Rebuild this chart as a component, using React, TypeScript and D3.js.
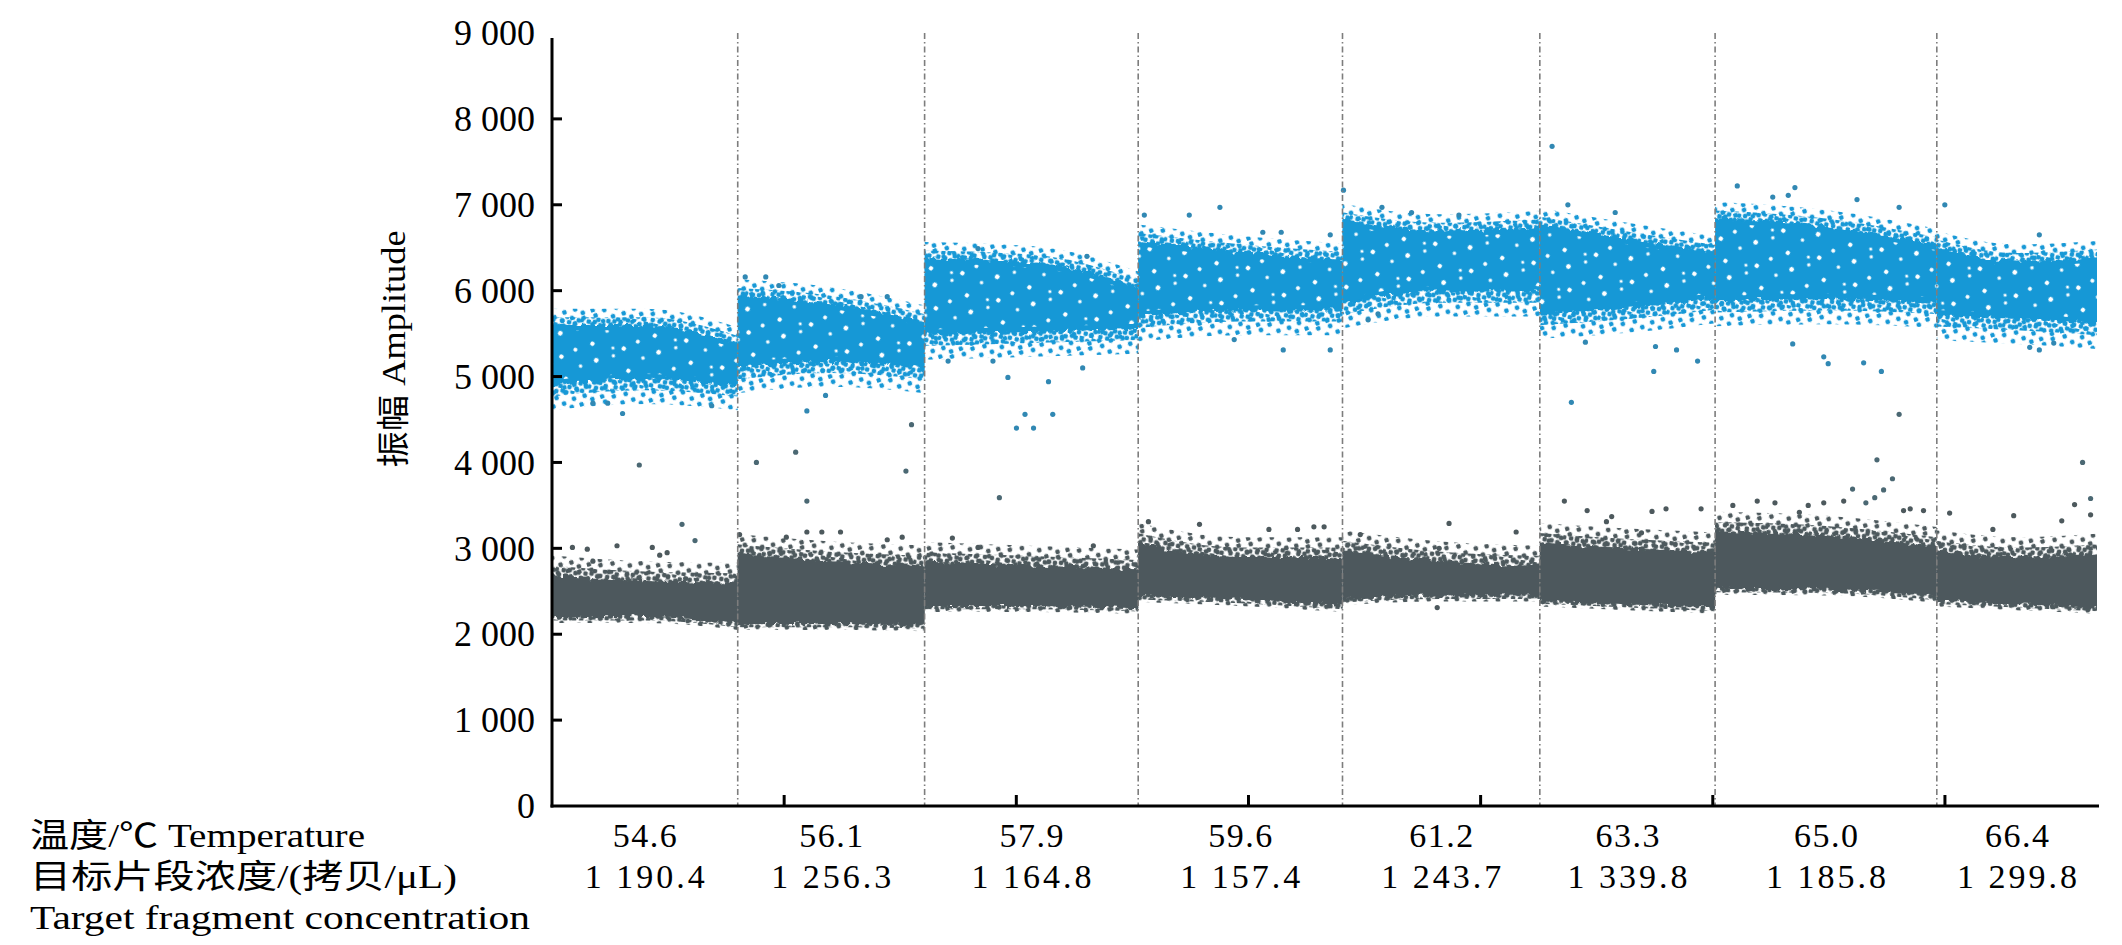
import React, { useEffect, useRef } from "react";
import * as d3 from "d3";

// wells in run order
const temperatures = ["54.6", "56.1", "57.9", "59.6", "61.2", "63.3", "65.0", "66.4"];
const concentrations = ["1 190.4", "1 256.3", "1 164.8", "1 157.4", "1 243.7", "1 339.8", "1 185.8", "1 299.8"];
const dropletCounts = [16000, 16100, 18400, 17600, 17000, 15100, 19100, 13800];

// dense droplet clouds per well: [fraction of well, low amplitude, high amplitude]
const positiveBands: [number, number, number][][] = [
    [[0, 4880, 5600], [0.5, 4970, 5600], [1, 4880, 5330]],
    [[0, 5080, 5950], [0.5, 5170, 5850], [1, 5080, 5600]],
    [[0, 5480, 6380], [0.5, 5520, 6330], [1, 5560, 5980]],
    [[0, 5680, 6600], [0.5, 5770, 6450], [1, 5770, 6350]],
    [[0, 5820, 6850], [0.5, 5990, 6700], [1, 5990, 6750]],
    [[0, 5720, 6800], [0.5, 5800, 6600], [1, 5930, 6420]],
    [[0, 5870, 6850], [0.5, 5900, 6750], [1, 5850, 6500]],
    [[0, 5720, 6550], [0.5, 5670, 6350], [1, 5600, 6400]],
];
const negativeBands: [number, number, number][][] = [
    [[0, 2200, 2700], [0.5, 2200, 2620], [1, 2100, 2600]],
    [[0, 2120, 2950], [0.5, 2120, 2850], [1, 2100, 2800]],
    [[0, 2330, 2850], [0.5, 2330, 2800], [1, 2300, 2750]],
    [[0, 2450, 3100], [0.5, 2400, 2900], [1, 2320, 2900]],
    [[0, 2400, 3000], [0.5, 2450, 2850], [1, 2450, 2800]],
    [[0, 2400, 3080], [0.5, 2350, 3000], [1, 2300, 2950]],
    [[0, 2530, 3200], [0.5, 2520, 3150], [1, 2420, 3000]],
    [[0, 2400, 3000], [0.5, 2350, 2900], [1, 2300, 2950]],
];
// looser droplets around the clouds: [below, above], inner ring then outer ring
const positiveSpread = [[130, 90], [290, 190]];
const negativeSpread = [[40, 110], [70, 230]];

// single droplets: [well, fraction of well, amplitude]
const positiveOutliers: [number, number, number][] = [
    [0, 0.22, 4690], [0, 0.38, 4570], [0, 0.86, 4660], [0, 0.3, 4690],
    [1, 0.04, 6160], [1, 0.15, 6160], [1, 0.22, 6060], [1, 0.66, 5930], [1, 0.8, 5930],
    [1, 0.47, 4780], [1, 0.37, 4600],
    [2, 0.43, 4400], [2, 0.51, 4400], [2, 0.47, 4560], [2, 0.6, 4560], [2, 0.58, 4940],
    [2, 0.39, 4990], [2, 0.11, 5180], [2, 0.32, 5180], [2, 0.74, 5100], [2, 0.25, 6490], [2, 0.76, 6400],
    [3, 0.4, 6970], [3, 0.25, 6880], [3, 0.03, 6880], [3, 0.61, 6680], [3, 0.7, 6680], [3, 0.94, 6650],
    [3, 0.71, 5310], [3, 0.94, 5310], [3, 0.47, 5430],
    [4, 0.005, 7170], [4, 0.2, 6970], [4, 0.35, 6910], [4, 0.59, 6880], [4, 0.13, 5660], [4, 0.18, 5730],
    [5, 0.07, 7680], [5, 0.16, 7000], [5, 0.43, 6910], [5, 0.65, 5060], [5, 0.9, 5180],
    [5, 0.78, 5310], [5, 0.66, 5350], [5, 0.26, 5400], [5, 0.18, 4700],
    [6, 0.1, 7220], [6, 0.36, 7200], [6, 0.33, 7110], [6, 0.26, 7090], [6, 0.83, 6970], [6, 0.64, 7060],
    [6, 0.35, 5380], [6, 0.67, 5160], [6, 0.75, 5060], [6, 0.49, 5230], [6, 0.51, 5150],
    [7, 0.05, 7000], [7, 0.64, 6650], [7, 0.58, 5340], [7, 0.64, 5310], [7, 0.73, 5390],
];
const rainDroplets: [number, number, number][] = [
    [0, 0.47, 3970], [0, 0.7, 3280], [0, 0.77, 3090],
    [1, 0.1, 4000], [1, 0.31, 4120], [1, 0.37, 3550], [1, 0.9, 3900], [1, 0.93, 4440],
    [2, 0.35, 3590],
    [6, 0.83, 4560], [6, 0.73, 4030], [6, 0.8, 3810], [6, 0.62, 3690], [6, 0.76, 3680],
    [6, 0.72, 3590], [6, 0.68, 3530],
    [7, 0.91, 4000], [7, 0.96, 3580],
];
const negativeOutliers: [number, number, number][] = [
    [0, 0.11, 3010], [0, 0.19, 2990], [0, 0.35, 3030], [0, 0.54, 3010], [0, 0.58, 2920],
    [0, 0.62, 2950], [0, 0.22, 2850],
    [1, 0.01, 3160], [1, 0.37, 3190], [1, 0.45, 3190], [1, 0.55, 3190], [1, 0.26, 3130],
    [1, 0.8, 3100], [1, 0.88, 3130],
    [2, 0.13, 3120], [2, 0.79, 3030], [2, 0.25, 3010],
    [3, 0.05, 3310], [3, 0.3, 3280], [3, 0.78, 3220], [3, 0.86, 3250], [3, 0.64, 3220], [3, 0.91, 3250],
    [4, 0.54, 3290], [4, 0.88, 3190], [4, 0.49, 3000], [4, 0.09, 3160], [4, 0.48, 2310],
    [5, 0.14, 3550], [5, 0.27, 3440], [5, 0.38, 3310], [5, 0.41, 3370], [5, 0.64, 3430],
    [5, 0.72, 3460], [5, 0.92, 3460], [5, 0.58, 3180],
    [6, 0.08, 3500], [6, 0.19, 3550], [6, 0.27, 3530], [6, 0.42, 3500], [6, 0.49, 3530],
    [6, 0.58, 3550], [6, 0.38, 3420], [6, 0.85, 3440], [6, 0.88, 3460], [6, 0.94, 3440],
    [7, 0.08, 3410], [7, 0.48, 3380], [7, 0.86, 3510], [7, 0.96, 3390], [7, 0.78, 3320], [7, 0.35, 3220],
];

const yTicks = [0, 1000, 2000, 3000, 4000, 5000, 6000, 7000, 8000, 9000];
const eventTickStep = 20000;

const leftLabels = ["温度/℃ Temperature", "目标片段浓度/(拷贝/μL)", "Target fragment concentration"];
const yTitle = "振幅 Amplitude";

const BLUE = "#1798d6";
const GRAY = "#4d595d";

// speckle tiles (texture only)
const speckleDense = [[2, 3], [8, 1], [14, 4], [20, 2], [5, 8], [11, 7], [17, 9], [1, 13], [8, 13], [14, 12], [20, 14], [4, 18], [11, 18], [17, 19]];
const speckleSparse = [[3, 4], [13, 2], [19, 11], [8, 12], [2, 19], [14, 18]];
const holeTile = [[5, 6, 2.2], [29, 3, 1.7], [18, 17, 2.4], [40, 21, 2.0], [9, 31, 1.8], [33, 35, 2.3], [24, 41, 1.6]];

const DropletPlot: React.FC = () => {
    const svgRef = useRef<SVGSVGElement | null>(null);

    useEffect(() => {
        document.body.style.margin = "0";
        const svg = d3.select(svgRef.current);
        svg.selectAll("*").remove();

        const total = d3.sum(dropletCounts);
        const starts = dropletCounts.map((_, i) => d3.sum(dropletCounts.slice(0, i)));
        const x = d3.scaleLinear().domain([0, total]).range([552, 2097]);
        const y = d3.scaleLinear().domain([0, 9000]).range([806, 33]);
        const fmt = d3.formatLocale({ decimal: ".", thousands: " ", grouping: [3], currency: ["", ""] }).format(",d");
        const serif = "'Liberation Serif', 'Noto Sans CJK SC', serif";

        const defs = svg.append("defs");
        const rough = defs.append("filter").attr("id", "rough")
            .attr("x", "-5%").attr("y", "-30%").attr("width", "110%").attr("height", "160%");
        rough.append("feTurbulence").attr("type", "fractalNoise").attr("baseFrequency", "0.16")
            .attr("numOctaves", 2).attr("seed", 5).attr("result", "noise");
        rough.append("feDisplacementMap").attr("in", "SourceGraphic").attr("in2", "noise")
            .attr("scale", 9).attr("xChannelSelector", "R").attr("yChannelSelector", "G");

        const makePattern = (id: string, color: string, w: number, h: number, pts: number[][], r: number, rot: number) => {
            const p = defs.append("pattern").attr("id", id).attr("patternUnits", "userSpaceOnUse")
                .attr("width", w).attr("height", h).attr("patternTransform", `rotate(${rot})`);
            pts.forEach(([cx, cy, cr]) => p.append("circle").attr("cx", cx).attr("cy", cy).attr("r", cr ?? r).attr("fill", color));
        };
        makePattern("blueMid", BLUE, 22, 21, speckleDense, 2.4, 13);
        makePattern("blueSparse", BLUE, 22, 21, speckleSparse, 2.4, -21);
        makePattern("grayMid", GRAY, 22, 21, speckleDense, 2.4, 9);
        makePattern("graySparse", GRAY, 22, 21, speckleSparse, 2.4, -17);
        makePattern("holes", "#fff", 45, 44, holeTile, 2, 37);

        dropletCounts.forEach((count, i) => {
            defs.append("clipPath").attr("id", `well-${i}`).append("rect")
                .attr("x", x(starts[i])).attr("y", 0)
                .attr("width", x(starts[i] + count) - x(starts[i])).attr("height", y(0));
        });

        const area = (i: number, band: [number, number, number][], below: number, above: number) => {
            const pad = 1200;
            const pts = band.map(([f, lo, hi]) => ({ e: starts[i] + f * dropletCounts[i], lo: lo - below, hi: hi + above }));
            pts[0].e -= pad;
            pts[pts.length - 1].e += pad;
            return d3.area<{ e: number; lo: number; hi: number }>()
                .x((d) => x(d.e)).y0((d) => y(d.lo)).y1((d) => y(d.hi))
                .curve(d3.curveMonotoneX)(pts);
        };

        const clouds = svg.append("g");
        dropletCounts.forEach((_, i) => {
            const g = clouds.append("g").attr("clip-path", `url(#well-${i})`);
            const cloud = (band: [number, number, number][], spread: number[][], color: string, mid: string, sparse: string, holes: boolean) => {
                g.append("path").attr("d", area(i, band, spread[1][0], spread[1][1])).attr("fill", `url(#${sparse})`);
                g.append("path").attr("d", area(i, band, spread[0][0], spread[0][1])).attr("fill", `url(#${mid})`);
                g.append("path").attr("d", area(i, band, 0, 0)).attr("fill", color).attr("filter", "url(#rough)");
                if (holes) {
                    g.append("path").attr("d", area(i, band, -60, -60)).attr("fill", "url(#holes)");
                }
            };
            cloud(negativeBands[i], negativeSpread, GRAY, "grayMid", "graySparse", false);
            cloud(positiveBands[i], positiveSpread, BLUE, "blueMid", "blueSparse", true);
        });

        const dots = (data: [number, number, number][], color: string) => {
            svg.append("g").selectAll("circle").data(data).enter().append("circle")
                .attr("cx", (d) => x(starts[d[0]] + d[1] * dropletCounts[d[0]]))
                .attr("cy", (d) => y(d[2]))
                .attr("r", 2.6)
                .attr("fill", color);
        };
        dots(negativeOutliers, GRAY);
        dots(rainDroplets, "#4b6873");
        dots(positiveOutliers, "#3188b3");

        // well separators
        svg.append("g").selectAll("line").data(starts.slice(1)).enter().append("line")
            .attr("x1", (d) => x(d)).attr("x2", (d) => x(d))
            .attr("y1", y(9000)).attr("y2", y(0))
            .attr("stroke", "#7d7d7d").attr("stroke-width", 1.6)
            .attr("stroke-dasharray", "6 3 1.5 3");

        // y axis
        const yAxis = svg.append("g");
        yAxis.append("line").attr("x1", x(0)).attr("x2", x(0)).attr("y1", y(0) + 1.5).attr("y2", y(9000) + 5)
            .attr("stroke", "#000").attr("stroke-width", 3);
        yAxis.selectAll("line.tick").data(yTicks.slice(1, -1)).enter().append("line")
            .attr("class", "tick")
            .attr("x1", x(0)).attr("x2", x(0) + 10).attr("y1", (d) => y(d)).attr("y2", (d) => y(d))
            .attr("stroke", "#000").attr("stroke-width", 3);
        yAxis.selectAll("text").data(yTicks).enter().append("text")
            .attr("x", 535).attr("y", (d) => y(d)).attr("dy", "0.34em")
            .attr("text-anchor", "end").attr("font-family", serif).attr("font-size", 36)
            .text((d) => fmt(d));

        // x axis
        const xAxis = svg.append("g");
        xAxis.append("line").attr("x1", x(0) - 1.5).attr("x2", x(total) + 2).attr("y1", y(0)).attr("y2", y(0))
            .attr("stroke", "#000").attr("stroke-width", 3);
        xAxis.selectAll("line.tick").data(d3.range(eventTickStep, total, eventTickStep)).enter().append("line")
            .attr("class", "tick")
            .attr("x1", (d) => x(d)).attr("x2", (d) => x(d)).attr("y1", y(0)).attr("y2", y(0) - 11)
            .attr("stroke", "#000").attr("stroke-width", 3);

        const centers = starts.map((s, i) => x(s + dropletCounts[i] / 2));
        svg.append("g").selectAll("text").data(temperatures).enter().append("text")
            .attr("x", (_, i) => centers[i]).attr("y", 847)
            .attr("text-anchor", "middle").attr("font-family", serif).attr("font-size", 34)
            .attr("textLength", 64).attr("lengthAdjust", "spacing")
            .text((d) => d);
        svg.append("g").selectAll("text").data(concentrations).enter().append("text")
            .attr("x", (_, i) => centers[i]).attr("y", 888)
            .attr("text-anchor", "middle").attr("font-family", serif).attr("font-size", 34)
            .attr("textLength", 120).attr("lengthAdjust", "spacing")
            .text((d) => d);

        const labelWidths = [335, 427, 500];
        svg.append("g").selectAll("text").data(leftLabels).enter().append("text")
            .attr("x", 30).attr("y", (_, i) => 847 + i * 41)
            .attr("font-family", serif).attr("font-size", 33)
            .attr("textLength", (_, i) => labelWidths[i]).attr("lengthAdjust", "spacingAndGlyphs")
            .text((d) => d);

        svg.append("text")
            .attr("transform", `translate(405, 349) rotate(-90)`)
            .attr("text-anchor", "middle").attr("font-family", serif).attr("font-size", 33)
            .attr("textLength", 237).attr("lengthAdjust", "spacingAndGlyphs")
            .text(yTitle);
    }, []);

    return <svg ref={svgRef} width={2122} height={945} style={{ display: "block", background: "#fff" }} />;
};

export default function App() {
    return <DropletPlot />;
}
